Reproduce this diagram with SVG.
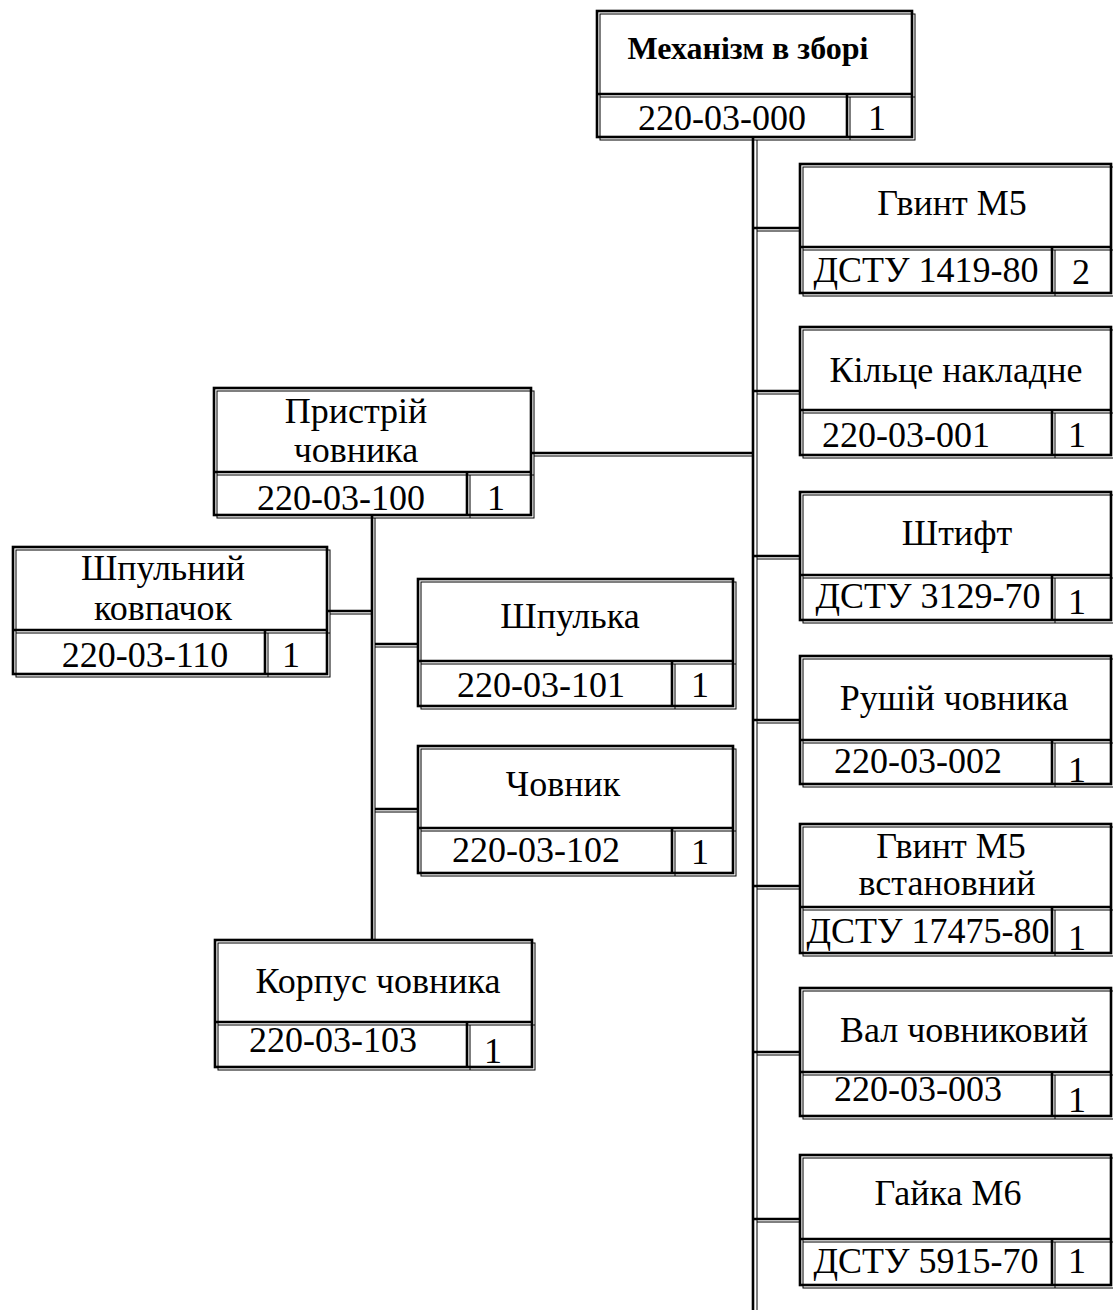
<svg xmlns="http://www.w3.org/2000/svg" width="1113" height="1310" viewBox="0 0 1113 1310">
<style>
.k{fill:none;stroke:#000;stroke-width:2.6}
.t{fill:none;stroke:#000;stroke-width:1}
text{font-family:"Liberation Serif","Times New Roman",serif;font-size:36px;fill:#000;text-anchor:middle}
.b{font-weight:bold;font-size:32px}
</style>
<rect width="1113" height="1310" fill="#fff"/>
<g id="connectors">
<line class="k" x1="753" y1="137" x2="753" y2="1310"/>
<line class="t" x1="757" y1="140" x2="757" y2="1310"/>
<line class="k" x1="753" y1="228" x2="800" y2="228"/><line class="t" x1="757" y1="231" x2="800" y2="231"/>
<line class="k" x1="753" y1="391" x2="800" y2="391"/><line class="t" x1="757" y1="394" x2="800" y2="394"/>
<line class="k" x1="753" y1="556" x2="800" y2="556"/><line class="t" x1="757" y1="559" x2="800" y2="559"/>
<line class="k" x1="753" y1="720" x2="800" y2="720"/><line class="t" x1="757" y1="723" x2="800" y2="723"/>
<line class="k" x1="753" y1="886" x2="800" y2="886"/><line class="t" x1="757" y1="889" x2="800" y2="889"/>
<line class="k" x1="753" y1="1052" x2="800" y2="1052"/><line class="t" x1="757" y1="1055" x2="800" y2="1055"/>
<line class="k" x1="753" y1="1219" x2="800" y2="1219"/><line class="t" x1="757" y1="1222" x2="800" y2="1222"/>
<line class="k" x1="531" y1="453" x2="753" y2="453"/><line class="t" x1="534" y1="456" x2="753" y2="456"/>
<line class="k" x1="372" y1="515" x2="372" y2="940"/><line class="t" x1="375" y1="518" x2="375" y2="940"/>
<line class="k" x1="327" y1="611" x2="372" y2="611"/><line class="t" x1="330" y1="614" x2="372" y2="614"/>
<line class="k" x1="375" y1="644" x2="418" y2="644"/><line class="t" x1="375" y1="647" x2="418" y2="647"/>
<line class="k" x1="375" y1="809" x2="418" y2="809"/><line class="t" x1="375" y1="812" x2="418" y2="812"/>
</g>
<g id="n0">
<rect class="k" x="597" y="11" width="315" height="126"/><rect class="t" x="600" y="14" width="315" height="126"/>
<line class="k" x1="597" y1="94" x2="912" y2="94"/><line class="t" x1="600" y1="97" x2="915" y2="97"/>
<line class="k" x1="847" y1="94" x2="847" y2="137"/><line class="t" x1="850" y1="97" x2="850" y2="140"/>
<text class="b" x="748" y="59">Механізм в зборі</text>
<text x="722" y="130">220-03-000</text><text x="877" y="130">1</text>
</g>
<g id="r1">
<rect class="k" x="800" y="164" width="311" height="129"/><rect class="t" x="803" y="167" width="311" height="129"/>
<line class="k" x1="800" y1="247" x2="1111" y2="247"/><line class="t" x1="803" y1="250" x2="1113" y2="250"/>
<line class="k" x1="1052" y1="247" x2="1052" y2="293"/><line class="t" x1="1055" y1="250" x2="1055" y2="296"/>
<text x="952" y="215">Гвинт М5</text>
<text x="926" y="282">ДСТУ 1419-80</text><text x="1081" y="284">2</text>
</g>
<g id="r2">
<rect class="k" x="800" y="327" width="311" height="128"/><rect class="t" x="803" y="330" width="311" height="128"/>
<line class="k" x1="800" y1="410" x2="1111" y2="410"/><line class="t" x1="803" y1="413" x2="1113" y2="413"/>
<line class="k" x1="1052" y1="410" x2="1052" y2="455"/><line class="t" x1="1055" y1="413" x2="1055" y2="458"/>
<text x="956" y="382">Кільце накладне</text>
<text x="906" y="447">220-03-001</text><text x="1077" y="447">1</text>
</g>
<g id="r3">
<rect class="k" x="800" y="492" width="311" height="128"/><rect class="t" x="803" y="495" width="311" height="128"/>
<line class="k" x1="800" y1="575" x2="1111" y2="575"/><line class="t" x1="803" y1="578" x2="1113" y2="578"/>
<line class="k" x1="1052" y1="575" x2="1052" y2="620"/><line class="t" x1="1055" y1="578" x2="1055" y2="623"/>
<text x="957" y="545">Штифт</text>
<text x="928" y="608">ДСТУ 3129-70</text><text x="1077" y="614">1</text>
</g>
<g id="r4">
<rect class="k" x="800" y="656" width="311" height="128"/><rect class="t" x="803" y="659" width="311" height="128"/>
<line class="k" x1="800" y1="740" x2="1111" y2="740"/><line class="t" x1="803" y1="743" x2="1113" y2="743"/>
<line class="k" x1="1052" y1="740" x2="1052" y2="784"/><line class="t" x1="1055" y1="743" x2="1055" y2="787"/>
<text x="954" y="710">Рушій човника</text>
<text x="918" y="773">220-03-002</text><text x="1077" y="782">1</text>
</g>
<g id="r5">
<rect class="k" x="800" y="824" width="311" height="129"/><rect class="t" x="803" y="827" width="311" height="129"/>
<line class="k" x1="800" y1="907" x2="1111" y2="907"/><line class="t" x1="803" y1="910" x2="1113" y2="910"/>
<line class="k" x1="1052" y1="907" x2="1052" y2="953"/><line class="t" x1="1055" y1="910" x2="1055" y2="956"/>
<text x="951" y="858">Гвинт М5</text><text x="947" y="895">встановний</text>
<text x="928" y="943">ДСТУ 17475-80</text><text x="1077" y="950">1</text>
</g>
<g id="r6">
<rect class="k" x="800" y="988" width="311" height="128"/><rect class="t" x="803" y="991" width="311" height="128"/>
<line class="k" x1="800" y1="1072" x2="1111" y2="1072"/><line class="t" x1="803" y1="1075" x2="1113" y2="1075"/>
<line class="k" x1="1052" y1="1072" x2="1052" y2="1116"/><line class="t" x1="1055" y1="1075" x2="1055" y2="1119"/>
<text x="964" y="1042">Вал човниковий</text>
<text x="918" y="1101">220-03-003</text><text x="1077" y="1112">1</text>
</g>
<g id="r7">
<rect class="k" x="800" y="1155" width="311" height="130"/><rect class="t" x="803" y="1158" width="311" height="130"/>
<line class="k" x1="800" y1="1239" x2="1111" y2="1239"/><line class="t" x1="803" y1="1242" x2="1113" y2="1242"/>
<line class="k" x1="1052" y1="1239" x2="1052" y2="1285"/><line class="t" x1="1055" y1="1242" x2="1055" y2="1288"/>
<text x="948" y="1205">Гайка М6</text>
<text x="926" y="1273">ДСТУ 5915-70</text><text x="1077" y="1273">1</text>
</g>
<g id="l0">
<rect class="k" x="214" y="388" width="317" height="127"/><rect class="t" x="217" y="391" width="317" height="127"/>
<line class="k" x1="214" y1="472" x2="531" y2="472"/><line class="t" x1="217" y1="475" x2="534" y2="475"/>
<line class="k" x1="467" y1="472" x2="467" y2="515"/><line class="t" x1="470" y1="475" x2="470" y2="518"/>
<text x="356" y="423">Пристрій</text><text x="356" y="462">човника</text>
<text x="341" y="510">220-03-100</text><text x="496" y="510">1</text>
</g>
<g id="l1">
<rect class="k" x="13" y="547" width="314" height="127"/><rect class="t" x="16" y="550" width="314" height="127"/>
<line class="k" x1="13" y1="630" x2="327" y2="630"/><line class="t" x1="16" y1="633" x2="330" y2="633"/>
<line class="k" x1="265" y1="630" x2="265" y2="674"/><line class="t" x1="268" y1="633" x2="268" y2="677"/>
<text x="163" y="580">Шпульний</text><text x="163" y="620">ковпачок</text>
<text x="145" y="667">220-03-110</text><text x="291" y="667">1</text>
</g>
<g id="l2">
<rect class="k" x="418" y="579" width="315" height="127"/><rect class="t" x="421" y="582" width="315" height="127"/>
<line class="k" x1="418" y1="661" x2="733" y2="661"/><line class="t" x1="421" y1="664" x2="736" y2="664"/>
<line class="k" x1="672" y1="661" x2="672" y2="706"/><line class="t" x1="675" y1="664" x2="675" y2="709"/>
<text x="570" y="628">Шпулька</text>
<text x="541" y="697">220-03-101</text><text x="700" y="697">1</text>
</g>
<g id="l3">
<rect class="k" x="418" y="746" width="315" height="127"/><rect class="t" x="421" y="749" width="315" height="127"/>
<line class="k" x1="418" y1="828" x2="733" y2="828"/><line class="t" x1="421" y1="831" x2="736" y2="831"/>
<line class="k" x1="672" y1="828" x2="672" y2="873"/><line class="t" x1="675" y1="831" x2="675" y2="876"/>
<text x="563" y="796">Човник</text>
<text x="536" y="862">220-03-102</text><text x="700" y="864">1</text>
</g>
<g id="l4">
<rect class="k" x="215" y="940" width="317" height="127"/><rect class="t" x="218" y="943" width="317" height="127"/>
<line class="k" x1="215" y1="1022" x2="532" y2="1022"/><line class="t" x1="218" y1="1025" x2="535" y2="1025"/>
<line class="k" x1="467" y1="1022" x2="467" y2="1067"/><line class="t" x1="470" y1="1025" x2="470" y2="1070"/>
<text x="378" y="993">Корпус човника</text>
<text x="333" y="1052">220-03-103</text><text x="493" y="1063">1</text>
</g>
</svg>
